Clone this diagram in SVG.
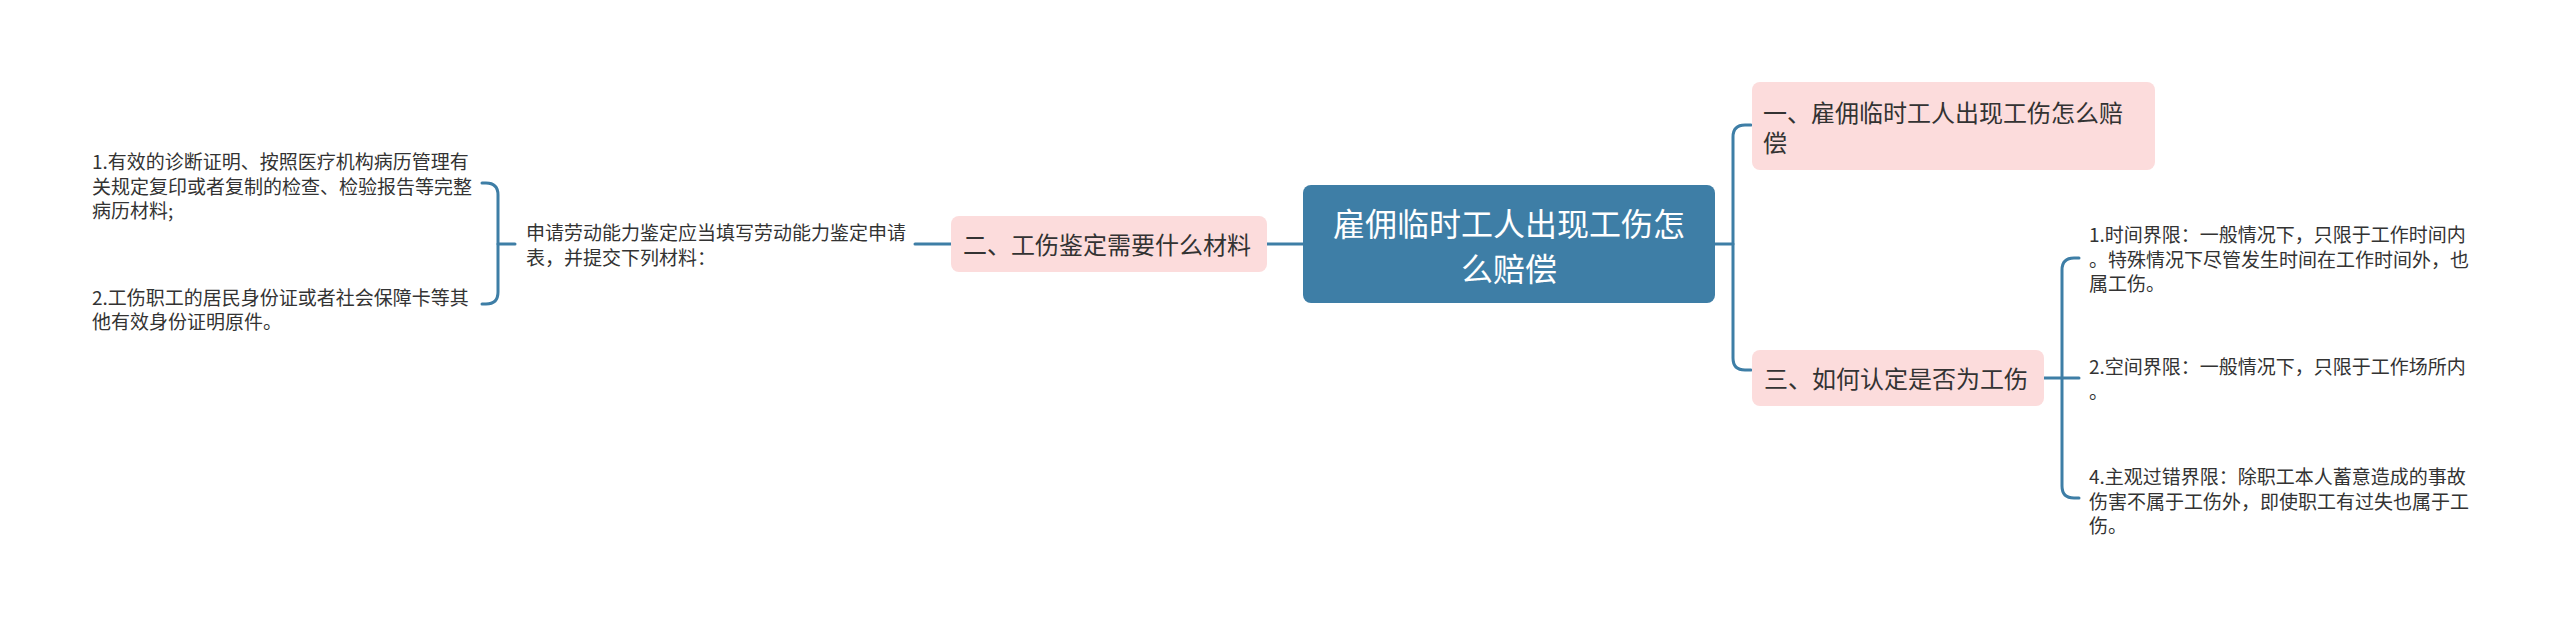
<svg xmlns="http://www.w3.org/2000/svg" width="2560" height="627" viewBox="0 0 2560 627">
<style>
  text { font-family: "Noto Sans CJK SC", "Noto Sans", sans-serif; fill: #333333; }
  .root { fill: #3e7ea6; }
  .root-t { fill: #ffffff; font-size: 32px; text-anchor: middle; }
  .main { fill: #fcdcdc; }
  .main-t { font-size: 24px; }
  .leaf-t { font-size: 19px; }
  .conn { fill: none; stroke: #3e7ea6; stroke-width: 3; stroke-linecap: round; }
</style>
<rect width="2560" height="627" fill="#ffffff"/>
<g id="connectors">
  <path class="conn" d="M1303 244 H1267"/>
  <path class="conn" d="M1715 244 H1733"/>
  <path class="conn" d="M1751 125 H1745 Q1733 125 1733 137 V358 Q1733 370 1745 370 H1751"/>
  <path class="conn" d="M2044 378 H2079"/>
  <path class="conn" d="M2079 258 H2074 Q2062 258 2062 270 V486 Q2062 498 2074 498 H2079"/>
  <path class="conn" d="M951 244 H915"/>
  <path class="conn" d="M515 244 H498"/>
  <path class="conn" d="M482 183 H486 Q498 183 498 195 V292 Q498 304 486 304 H482"/>
</g>
<g id="root">
  <rect class="root" x="1303" y="185" width="412" height="118" rx="8"/>
  <text class="root-t" x="1509" y="236">雇佣临时工人出现工伤怎</text>
  <text class="root-t" x="1509" y="281">么赔偿</text>
</g>
<g id="n1">
  <rect class="main" x="1752" y="82" width="403" height="88" rx="8"/>
  <text class="main-t" x="1763" y="121.5">一、雇佣临时工人出现工伤怎么赔</text>
  <text class="main-t" x="1763" y="151.5">偿</text>
</g>
<g id="n2">
  <rect class="main" x="951" y="216" width="316" height="56" rx="8"/>
  <text class="main-t" x="963" y="253.5">二、工伤鉴定需要什么材料</text>
</g>
<g id="n3">
  <rect class="main" x="1752" y="350" width="292" height="56" rx="8"/>
  <text class="main-t" x="1764" y="387.5">三、如何认定是否为工伤</text>
</g>
<g id="n2-leaf">
  <text class="leaf-t" x="526" y="240">申请劳动能力鉴定应当填写劳动能力鉴定申请</text>
  <text class="leaf-t" x="526" y="264.5">表，并提交下列材料：</text>
</g>
<g id="n2-leaf-1">
  <text class="leaf-t" x="92" y="169">1.有效的诊断证明、按照医疗机构病历管理有</text>
  <text class="leaf-t" x="92" y="193.5">关规定复印或者复制的检查、检验报告等完整</text>
  <text class="leaf-t" x="92" y="218">病历材料;</text>
</g>
<g id="n2-leaf-2">
  <text class="leaf-t" x="92" y="304.5">2.工伤职工的居民身份证或者社会保障卡等其</text>
  <text class="leaf-t" x="92" y="329">他有效身份证明原件。</text>
</g>
<g id="n3-leaf-1">
  <text class="leaf-t" x="2089" y="242">1.时间界限：一般情况下，只限于工作时间内</text>
  <text class="leaf-t" x="2089" y="266.5">。特殊情况下尽管发生时间在工作时间外，也</text>
  <text class="leaf-t" x="2089" y="291">属工伤。</text>
</g>
<g id="n3-leaf-2">
  <text class="leaf-t" x="2089" y="374">2.空间界限：一般情况下，只限于工作场所内</text>
  <text class="leaf-t" x="2089" y="398.5">。</text>
</g>
<g id="n3-leaf-3">
  <text class="leaf-t" x="2089" y="484">4.主观过错界限：除职工本人蓄意造成的事故</text>
  <text class="leaf-t" x="2089" y="508.5">伤害不属于工伤外，即使职工有过失也属于工</text>
  <text class="leaf-t" x="2089" y="533">伤。</text>
</g>
</svg>
